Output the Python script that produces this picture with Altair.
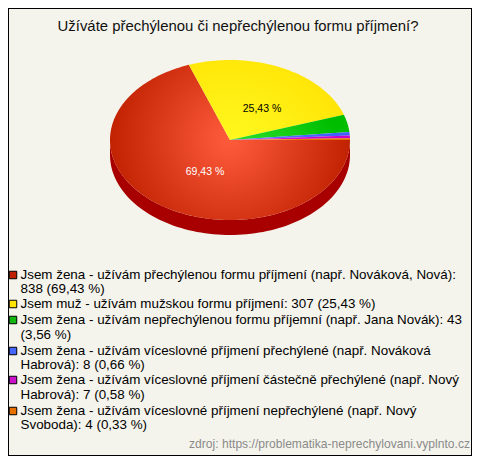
import math
import altair as alt

TITLE = "Užíváte přechýlenou či nepřechýlenou formu příjmení?"
SOURCE = "zdroj: https://problematika-neprechylovani.vyplnto.cz"
values = [838, 307, 43, 8, 7, 4]
edge_colors = ["#bf2000", "#ffe000", "#00bd00", "#3f60ff", "#c800c8", "#e87000"]
center_colors = ["#ff5c3c", "#ffff28", "#40f040", "#7a8cff", "#f030f0", "#ff9830"]
key_colors = ["#c02000", "#ffe400", "#10b810", "#4466ff", "#cc11cc", "#e87000"]
legend_lines = [
    ["Jsem žena - užívám přechýlenou formu příjmení (např. Nováková, Nová):", "838 (69,43 %)"],
    ["Jsem muž - užívám mužskou formu příjmení: 307 (25,43 %)"],
    ["Jsem žena - užívám nepřechýlenou formu příjemní (např. Jana Novák): 43", "(3,56 %)"],
    ["Jsem žena - užívám víceslovné příjmení přechýlené (např. Nováková", "Habrová): 8 (0,66 %)"],
    ["Jsem žena - užívám víceslovné příjmení částečně přechýlené (např. Nový", "Habrová): 7 (0,58 %)"],
    ["Jsem žena - užívám víceslovné příjmení nepřechýlené (např. Nový", "Svoboda): 4 (0,33 %)"],
]
line_centers = [[275, 289], [304], [320, 335], [351, 365], [380, 395], [411, 425]]
OFF = 8
W, H = 464, 448
CX, CY, RX, RY, DEPTH = 230 - OFF, 140 - OFF, 120, 80, 15
BG = "#f5f4ec"
ASPECT = RY / RX

projection = alt.Projection(type="identity", scale=RX, translate=[CX, CY], reflectY=True)


def feature(ring):
    return {"type": "Feature", "properties": {},
            "geometry": {"type": "Polygon", "coordinates": [ring]}}


def shape(ring, fill):
    return (alt.Chart(alt.Data(values=[feature(ring)]))
            .mark_geoshape(fill=fill, stroke=None, strokeWidth=0)
            .project(**projection.to_dict()))


layers = []

# Side wall of the pie: lower half of the ellipse, extruded downward
depth_u = DEPTH / RX
n = 90
front = [[math.cos(math.pi * i / n), -ASPECT * math.sin(math.pi * i / n)] for i in range(n + 1)]
lower = [[x, y - depth_u] for x, y in reversed(front)]
layers.append(shape(front + lower + [front[0]], "#a80000"))

# Top face: clockwise from 3 o'clock
total = sum(values)
cum = 0
for v, edge, mid in zip(values, edge_colors, center_colors):
    a0 = 2 * math.pi * cum / total
    a1 = 2 * math.pi * (cum + v) / total
    cum += v
    steps = max(4, int((a1 - a0) * 60))
    ring = [[0.0, 0.0]]
    for i in range(steps + 1):
        a = a0 + (a1 - a0) * i / steps
        ring.append([math.cos(a), -ASPECT * math.sin(a)])
    ring.append([0.0, 0.0])
    xs = [p[0] for p in ring]
    ys = [p[1] for p in ring]
    w, h = max(xs) - min(xs), max(ys) - min(ys)
    gx = (0 - min(xs)) / w
    gy = (max(ys) - 0) / h
    r = max(1 / w, ASPECT / h) if h > 0.3 else 1 / w
    grad = alt.RadialGradient(
        gradient="radial",
        stops=[alt.GradientStop(offset=0, color=mid), alt.GradientStop(offset=1, color=edge)],
        x1=gx, y1=gy, r1=0, x2=gx, y2=gy, r2=r,
    )
    layers.append(shape(ring, grad))


def text(s, x, y, size, color="#000000", align="left"):
    return (alt.Chart(alt.Data(values=[{"t": s}]))
            .mark_text(font="Liberation Sans", fontSize=size, color=color, align=align, baseline="middle")
            .encode(text="t:N", x=alt.value(x - OFF), y=alt.value(y - OFF)))


layers.append(text("25,43 %", 262, 109, 10.5, align="center"))
layers.append(text("69,43 %", 205, 172, 10.5, color="#ffffff", align="center"))
layers.append(text(TITLE, 238, 27, 14.9, color="#111111", align="center"))

for lines, ys, key in zip(legend_lines, line_centers, key_colors):
    layers.append(alt.Chart(alt.Data(values=[{"k": 1}]))
                  .mark_square(size=56, fill=key, stroke="#000000", strokeWidth=1, opacity=1)
                  .encode(x=alt.value(13 - OFF), y=alt.value(ys[0] - OFF)))
    for line, y in zip(lines, ys):
        layers.append(text(line, 20.5, y, 13.4))

layers.append(text(SOURCE, 470, 444, 12.1, color="#8a8a8a", align="right"))

# Frame of the picture
for enc in (dict(x=alt.value(W - 0.5), y=alt.value(0), y2=alt.value(H)),
            dict(y=alt.value(H - 0.5), x=alt.value(0), x2=alt.value(W)),
            dict(x=alt.value(0.5), y=alt.value(0), y2=alt.value(H)),
            dict(y=alt.value(0.5), x=alt.value(0), x2=alt.value(W))):
    layers.append(alt.Chart(alt.Data(values=[{"k": 1}])).mark_rule(color="#000000", strokeWidth=1).encode(**enc))

chart = (alt.layer(*layers)
         .properties(width=W, height=H, background=BG, padding=0,
                     autosize=alt.AutoSizeParams(type="none"))
         .configure_view(stroke=None))

chart.save("out.html", embed_options={"renderer": "svg", "actions": False})
